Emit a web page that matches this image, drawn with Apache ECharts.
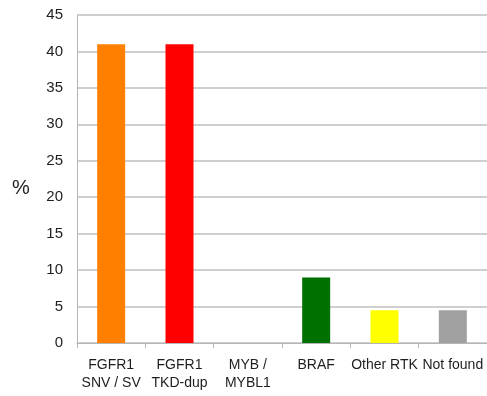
<!DOCTYPE html>
<html>
<head>
<meta charset="utf-8">
<style>
  html, body { margin: 0; padding: 0; background: #fff; }
  #chart { width: 487px; height: 396px; }
</style>
<script src="https://cdn.jsdelivr.net/npm/echarts@6/dist/echarts.min.js"></script>
</head>
<body>
<div id="chart"></div>
<script>
// Alteration categories and their frequencies (%)
const categories = ['FGFR1\nSNV / SV', 'FGFR1\nTKD-dup', 'MYB /\nMYBL1', 'BRAF', 'Other RTK', 'Not found'];
const values = [41, 41, 0, 9, 4.5, 4.5];
const barColors = ['#ff8000', '#ff0000', '#7f7f7f', '#007000', '#ffff00', '#a0a0a0'];
const yTicks = { min: 0, max: 45, interval: 5 };

const font = 'Liberation Sans, Arial, sans-serif';
const chart = echarts.init(document.getElementById('chart'));
chart.setOption({
  animation: false,
  backgroundColor: '#ffffff',
  grid: { left: 77, top: 15, width: 414, height: 328, containLabel: false },
  graphic: [{
    type: 'text',
    left: 12,
    top: 178,
    style: { text: '%', fill: '#222', font: '20px ' + font }
  }],
  xAxis: {
    type: 'category',
    data: categories,
    axisLine: { lineStyle: { color: '#b5b5b5', width: 1 } },
    axisTick: { show: true, length: 5, lineStyle: { color: '#b5b5b5' } },
    axisLabel: {
      color: '#1e1e1e',
      fontFamily: font,
      fontSize: 14,
      lineHeight: 18,
      margin: 13,
      interval: 0
    }
  },
  yAxis: {
    type: 'value',
    min: yTicks.min,
    max: yTicks.max,
    interval: yTicks.interval,
    axisLine: { show: true, lineStyle: { color: '#b5b5b5', width: 1 } },
    axisTick: { show: false },
    axisLabel: {
      color: '#1e1e1e',
      fontFamily: font,
      fontSize: 15,
      margin: 14
    },
    splitLine: { lineStyle: { color: '#cfcfcf', width: 2 } }
  },
  series: [{
    type: 'bar',
    data: values.map((v, i) => ({ value: v, itemStyle: { color: barColors[i] } })),
    barWidth: 28
  }]
});
</script>
</body>
</html>
